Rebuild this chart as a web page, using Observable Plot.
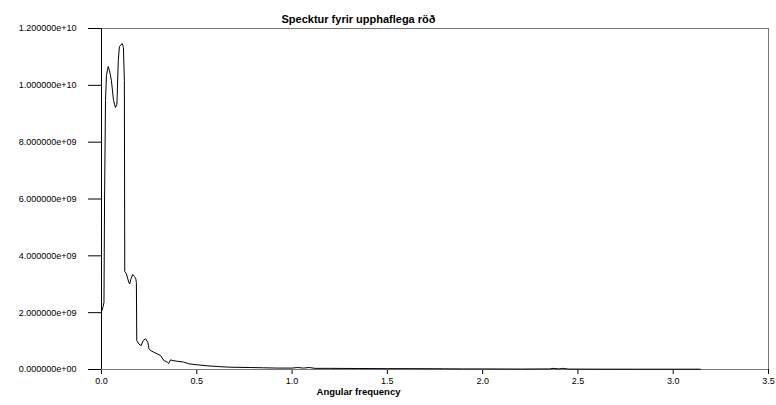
<!DOCTYPE html>
<html>
<head>
<meta charset="utf-8">
<script src="https://cdn.jsdelivr.net/npm/d3@7"></script>
<script src="https://cdn.jsdelivr.net/npm/@observablehq/plot@0.6"></script>
<style>
  html, body { margin: 0; padding: 0; background: #fff; }
  #chart svg { display: block; }
</style>
</head>
<body>
<div id="chart"></div>
<script>
// Periodogram of the original series: angular frequency vs. spectral power
const freq = [
  0.000, 0.007, 0.013, 0.016, 0.021, 0.026, 0.035, 0.042, 0.052, 0.063,
  0.073, 0.081, 0.088, 0.094, 0.109, 0.115, 0.120, 0.122, 0.130, 0.143,
  0.148, 0.155, 0.164, 0.173, 0.180, 0.183, 0.185, 0.196, 0.208, 0.219,
  0.231, 0.243, 0.249, 0.257, 0.274, 0.292, 0.310, 0.327, 0.345, 0.353,
  0.362, 0.371, 0.397, 0.432, 0.458, 0.502, 0.555, 0.607, 0.677, 0.780,
  0.850, 0.920, 1.000, 1.030, 1.060, 1.090, 1.120, 1.200, 1.350, 1.500,
  1.650, 1.800, 1.900, 2.000, 2.200, 2.350, 2.370, 2.400, 2.420, 2.450,
  2.600, 2.800, 3.000, 3.142
];
const power = [
  2.04e9, 2.18e9, 2.36e9, 6.0e9, 9.47e9, 10.35e9, 10.66e9, 10.52e9, 10.17e9, 9.47e9,
  9.22e9, 9.33e9, 10.87e9, 11.37e9, 11.47e9, 11.33e9, 10.17e9, 3.45e9, 3.38e9, 3.07e9,
  3.01e9, 3.20e9, 3.34e9, 3.27e9, 3.19e9, 3.06e9, 1.02e9, 0.90e9, 0.84e9, 1.02e9,
  1.08e9, 0.96e9, 0.74e9, 0.67e9, 0.61e9, 0.55e9, 0.49e9, 0.32e9, 0.26e9, 0.21e9,
  0.34e9, 0.32e9, 0.29e9, 0.26e9, 0.20e9, 0.165e9, 0.13e9, 0.105e9, 0.08e9, 0.07e9,
  0.06e9, 0.05e9, 0.05e9, 0.07e9, 0.05e9, 0.07e9, 0.04e9, 0.04e9, 0.035e9, 0.03e9,
  0.03e9, 0.025e9, 0.02e9, 0.02e9, 0.015e9, 0.02e9, 0.04e9, 0.02e9, 0.04e9, 0.015e9,
  0.012e9, 0.01e9, 0.01e9, 0.01e9
];
const xTicks = [0, 0.5, 1, 1.5, 2, 2.5, 3, 3.5];
const yTicks = [0, 2e9, 4e9, 6e9, 8e9, 10e9, 12e9];
const title = "Specktur fyrir upphaflega röð";
const xLabel = "Angular frequency";

const spectrum = freq.map((f, i) => ({f, p: power[i]}));

// Scientific notation with a two-digit exponent, e.g. 2.000000e+09
function sci(v) {
  const [m, e] = v.toExponential(6).split("e");
  const sign = e[0] === "-" ? "-" : "+";
  return `${m}e${sign}${e.replace(/^[+-]/, "").padStart(2, "0")}`;
}

const W = 776, H = 405;
const mL = 101, mR = 8, mT = 28, mB = 36;
const frameCenter = (mL + (W - mR)) / 2;

const chart = Plot.plot({
  width: W,
  height: H,
  marginLeft: mL,
  marginRight: mR,
  marginTop: mT,
  marginBottom: mB,
  style: {fontFamily: "'Liberation Sans', Arial, Helvetica, sans-serif", fontSize: "9px", color: "#000", background: "#fff"},
  x: {domain: [0, 3.5]},
  y: {domain: [0, 1.2e10]},
  marks: [
    Plot.frame({stroke: "#777", strokeWidth: 1}),
    Plot.axisY({ticks: yTicks, tickFormat: sci, tickSize: 13, tickPadding: 12, label: null, stroke: "#000"}),
    Plot.axisX({ticks: xTicks, tickFormat: d3.format(".1f"), tickSize: 5, tickPadding: 3, label: null, stroke: "#000"}),
    Plot.ruleX([0], {stroke: "#000"}),
    Plot.ruleY([0], {stroke: "#777"}),
    Plot.line(spectrum, {x: "f", y: "p", stroke: "#000", strokeWidth: 1}),
    Plot.text([title], {
      frameAnchor: "top", dx: 358 - frameCenter, dy: -13,
      fontWeight: "bold", fontSize: 11, fill: "#000"
    }),
    Plot.text([xLabel], {
      frameAnchor: "bottom", dx: 358 - frameCenter, dy: 25,
      fontWeight: "bold", fontSize: 9.5, fill: "#000"
    })
  ]
});

document.getElementById("chart").appendChild(chart);
</script>
</body>
</html>
